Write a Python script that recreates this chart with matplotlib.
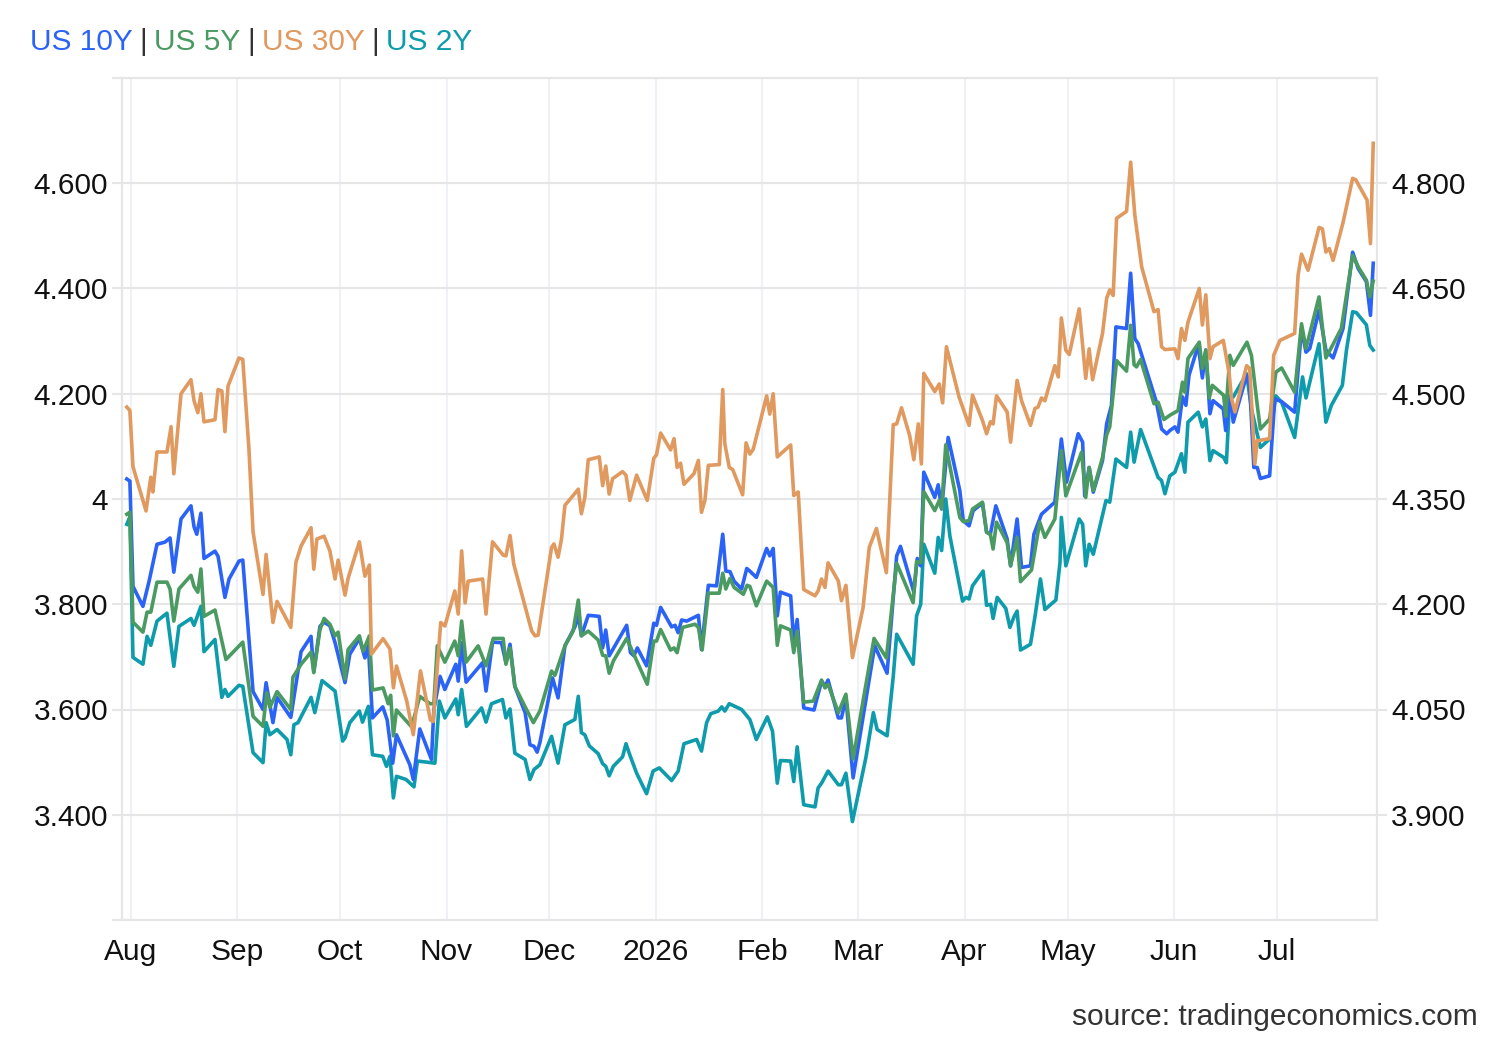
import numpy as np
import pandas as pd
import matplotlib
matplotlib.use("Agg")
import matplotlib.pyplot as plt
import matplotlib.dates as mdates
from matplotlib.ticker import FixedLocator, FuncFormatter

plt.rcParams['font.family'] = ['Liberation Sans', 'DejaVu Sans']

# day offsets are calendar days after 2025-08-01
start = pd.Timestamp("2025-08-01")

us10_days = [-1.2, -0.3, 0.6, 3.5, 5.3, 7.6, 9.9, 11.4, 12.5, 14.6, 17.5, 18.4, 19.2, 20.4, 21.3,
             24.5, 25.4, 27.4, 28.6, 31.5, 32.6, 35.6, 38.5, 39.4, 41.4, 42.6, 46.6, 49.6, 52.5,
             53.3, 55.1, 56.3, 58.0, 59.5, 62.4, 63.8, 66.6, 68.2, 69.2, 70.4, 73.4, 74.7, 76.3,
             77.4, 81.3, 82.3, 84.2, 87.6, 88.3, 90.1, 91.5, 94.7, 95.4, 96.4, 97.7, 100.8,
             102.5, 103.5, 105.4, 108.0, 109.3, 110.5, 111.9, 114.9, 116.3, 117.5, 118.4, 119.2,
             122.9, 124.5, 126.5, 129.4, 130.4, 131.3, 133.3, 136.5, 137.5, 138.4, 139.4, 144.5,
             145.6, 146.6, 147.6, 150.3, 152.4, 153.2, 154.4, 157.6, 158.6, 159.5, 160.5, 162.0,
             165.4, 166.3, 168.3, 170.7, 172.5, 173.4, 174.6, 175.8, 178.0, 179.5, 180.4, 182.3,
             185.3, 186.2, 187.2, 188.4, 189.3, 192.3, 193.2, 194.2, 196.1, 199.1, 201.3, 202.3,
             203.2, 206.2, 207.1, 208.4, 210.5, 213.9, 216.8, 220.4, 223.2, 224.3, 228.2, 229.2,
             230.2, 231.1, 234.3, 235.3, 236.3, 238.2, 241.6, 242.6, 244.3, 245.5, 248.2, 249.4,
             250.5, 252.1, 255.4, 256.4, 258.3, 259.6, 262.2, 263.2, 265.4, 269.3, 271.2, 272.7,
             276.1, 277.4, 278.0, 279.3, 280.5, 283.2, 284.4, 285.8, 287.1, 290.2, 291.4, 292.6,
             293.6, 294.6, 298.9, 300.4, 301.9, 302.8, 304.3, 305.2, 306.5, 307.5, 308.4, 311.1,
             312.3, 313.3, 314.5, 315.4, 318.4, 319.1, 320.5, 321.3, 325.2, 326.1, 327.3, 328.3,
             329.2, 331.9, 333.4, 335.4, 339.2, 341.2, 342.5, 343.6, 346.3, 348.3, 350.4, 353.3,
             356.1, 357.7, 360.1, 361.3, 362.1]
us10_vals = [4.038, 4.034, 3.834, 3.796, 3.844, 3.914, 3.918, 3.926, 3.861, 3.962, 3.987, 3.947,
             3.933, 3.973, 3.887, 3.901, 3.891, 3.813, 3.848, 3.882, 3.884, 3.634, 3.600, 3.651,
             3.575, 3.623, 3.585, 3.710, 3.739, 3.672, 3.758, 3.766, 3.759, 3.727, 3.651, 3.705,
             3.735, 3.698, 3.721, 3.584, 3.605, 3.580, 3.498, 3.552, 3.495, 3.467, 3.563, 3.505,
             3.600, 3.663, 3.638, 3.686, 3.654, 3.727, 3.652, 3.676, 3.689, 3.635, 3.728, 3.727,
             3.689, 3.724, 3.644, 3.594, 3.533, 3.530, 3.519, 3.537, 3.660, 3.622, 3.721, 3.757,
             3.778, 3.740, 3.779, 3.777, 3.717, 3.751, 3.702, 3.760, 3.708, 3.702, 3.717, 3.683,
             3.764, 3.760, 3.794, 3.757, 3.760, 3.746, 3.770, 3.768, 3.779, 3.714, 3.836, 3.835,
             3.933, 3.863, 3.862, 3.844, 3.829, 3.868, 3.863, 3.851, 3.906, 3.892, 3.906, 3.778,
             3.823, 3.816, 3.727, 3.771, 3.603, 3.599, 3.654, 3.644, 3.656, 3.584, 3.584, 3.622,
             3.470, 3.606, 3.721, 3.669, 3.892, 3.910, 3.823, 3.887, 3.873, 4.051, 4.003, 4.027,
             3.981, 4.117, 4.016, 3.959, 3.949, 3.978, 3.992, 3.937, 3.933, 3.987, 3.924, 3.873,
             3.962, 3.870, 3.873, 3.933, 3.971, 3.994, 4.114, 4.032, 4.124, 4.108, 4.006, 4.060,
             4.013, 4.073, 4.143, 4.178, 4.327, 4.324, 4.429, 4.305, 4.295, 4.274, 4.184, 4.133,
             4.124, 4.130, 4.137, 4.127, 4.194, 4.178, 4.235, 4.292, 4.230, 4.283, 4.162, 4.187,
             4.171, 4.130, 4.194, 4.146, 4.235, 4.216, 4.060, 4.060, 4.039, 4.044, 4.190, 4.185,
             4.165, 4.324, 4.279, 4.286, 4.359, 4.283, 4.268, 4.324, 4.469, 4.438, 4.413, 4.349,
             4.448]

us5_days = [-1.2, -0.3, 0.6, 3.5, 4.7, 5.8, 7.6, 10.5, 11.4, 12.5, 14.0, 17.5, 18.4, 19.5, 20.4,
            21.3, 24.5, 27.7, 32.6, 35.6, 38.5, 39.6, 40.5, 42.6, 46.6, 47.2, 49.6, 52.5, 53.3,
            55.1, 56.3, 58.0, 59.5, 60.4, 62.4, 63.3, 66.6, 67.7, 69.5, 70.4, 73.5, 75.0, 75.7,
            76.5, 77.4, 81.8, 84.2, 87.2, 88.3, 89.3, 91.5, 94.4, 95.4, 96.4, 97.7, 101.2, 103.5,
            105.6, 108.5, 109.3, 110.5, 111.9, 115.3, 117.3, 119.2, 122.6, 123.6, 126.5, 128.9,
            130.4, 131.3, 133.3, 136.2, 137.5, 138.4, 139.4, 140.6, 144.5, 150.5, 152.4, 153.2,
            154.4, 157.3, 158.3, 159.2, 160.8, 164.4, 165.4, 166.5, 168.3, 171.5, 172.5, 173.4,
            174.6, 175.8, 178.5, 179.6, 180.4, 182.3, 185.3, 187.2, 188.4, 189.3, 192.3, 193.2,
            194.2, 196.1, 198.9, 201.3, 202.3, 203.2, 206.2, 208.4, 210.5, 213.9, 216.6, 220.2,
            223.2, 228.0, 229.0, 230.2, 231.1, 234.3, 235.6, 236.3, 237.5, 241.6, 242.6, 244.3,
            245.3, 248.2, 249.4, 250.5, 251.3, 252.3, 255.4, 256.4, 258.3, 259.3, 262.5, 264.9,
            266.4, 269.3, 271.2, 272.5, 277.1, 278.3, 279.3, 280.5, 283.2, 284.4, 285.3, 287.3,
            290.2, 291.4, 292.4, 293.1, 294.3, 298.2, 299.4, 301.1, 302.8, 305.2, 306.5, 307.2,
            308.1, 311.4, 312.3, 313.3, 314.3, 315.2, 318.5, 319.1, 320.3, 321.3, 325.3, 326.6,
            328.3, 329.2, 331.9, 333.7, 335.4, 339.2, 341.2, 342.5, 346.3, 348.3, 352.8, 356.1,
            358.0, 360.1, 361.1, 362.1]
us5_vals = [3.971, 3.975, 3.766, 3.747, 3.785, 3.785, 3.842, 3.842, 3.829, 3.768, 3.829, 3.855,
            3.834, 3.823, 3.867, 3.777, 3.789, 3.695, 3.728, 3.587, 3.568, 3.632, 3.604, 3.634,
            3.600, 3.661, 3.686, 3.709, 3.670, 3.752, 3.773, 3.762, 3.740, 3.747, 3.658, 3.714,
            3.740, 3.711, 3.740, 3.637, 3.641, 3.611, 3.627, 3.550, 3.599, 3.567, 3.625, 3.611,
            3.611, 3.721, 3.690, 3.730, 3.702, 3.768, 3.690, 3.721, 3.683, 3.735, 3.735, 3.686,
            3.717, 3.644, 3.600, 3.575, 3.597, 3.673, 3.665, 3.721, 3.749, 3.808, 3.740, 3.749,
            3.732, 3.703, 3.702, 3.669, 3.692, 3.735, 3.648, 3.730, 3.730, 3.752, 3.713, 3.717,
            3.708, 3.756, 3.762, 3.756, 3.713, 3.821, 3.821, 3.859, 3.829, 3.849, 3.832, 3.819,
            3.836, 3.834, 3.797, 3.844, 3.832, 3.722, 3.759, 3.751, 3.708, 3.749, 3.614, 3.616,
            3.656, 3.641, 3.648, 3.594, 3.629, 3.506, 3.635, 3.735, 3.698, 3.878, 3.803, 3.881,
            3.879, 4.014, 3.978, 3.997, 3.982, 4.103, 3.965, 3.957, 3.959, 3.981, 3.994, 3.937,
            3.933, 3.905, 3.956, 3.917, 3.873, 3.927, 3.843, 3.865, 3.956, 3.927, 3.962, 4.092,
            4.006, 4.089, 4.003, 4.060, 4.016, 4.079, 4.122, 4.137, 4.263, 4.243, 4.330, 4.255,
            4.251, 4.265, 4.181, 4.184, 4.151, 4.159, 4.168, 4.222, 4.203, 4.267, 4.298, 4.248,
            4.283, 4.192, 4.216, 4.197, 4.157, 4.273, 4.254, 4.298, 4.273, 4.178, 4.133, 4.152,
            4.241, 4.249, 4.203, 4.333, 4.286, 4.384, 4.268, 4.324, 4.463, 4.438, 4.416, 4.384,
            4.414]

us30_days = [-1.2, -0.3, 0.6, 4.4, 5.8, 6.4, 7.6, 10.5, 11.7, 12.5, 14.6, 17.5, 18.4, 19.5, 20.4,
             21.3, 24.5, 25.4, 26.5, 27.4, 28.3, 31.5, 32.6, 34.4, 35.6, 38.5, 39.4, 41.4, 42.6,
             46.6, 48.1, 49.6, 52.5, 53.3, 54.2, 56.3, 58.0, 59.5, 60.4, 62.4, 63.3, 66.6, 68.2,
             69.5, 70.1, 73.5, 75.5, 76.5, 77.4, 80.4, 82.3, 84.4, 87.3, 88.1, 90.3, 91.5, 94.4,
             95.4, 96.4, 97.4, 98.3, 102.5, 103.5, 105.4, 108.5, 109.3, 110.5, 111.6, 116.8,
             117.8, 118.7, 122.6, 123.3, 124.5, 125.5, 126.5, 128.9, 130.4, 131.3, 132.3, 133.3,
             136.5, 137.5, 138.4, 139.4, 140.4, 143.3, 144.3, 145.4, 147.4, 150.5, 152.4, 153.2,
             154.4, 157.3, 158.3, 159.2, 160.2, 161.2, 164.1, 165.4, 166.3, 167.3, 168.3, 171.5,
             172.5, 173.1, 174.4, 175.4, 178.3, 179.3, 180.4, 181.4, 185.3, 186.2, 187.2, 188.4,
             192.3, 193.2, 194.5, 196.1, 199.4, 200.3, 201.3, 202.3, 203.2, 206.2, 207.1, 208.4,
             210.3, 213.4, 215.2, 217.3, 220.2, 222.2, 223.2, 224.6, 227.0, 228.2, 229.5, 230.4,
             231.1, 234.3, 235.6, 236.6, 237.7, 241.4, 244.3, 245.3, 248.2, 249.4, 250.5, 251.3,
             252.3, 255.4, 256.4, 258.3, 259.6, 262.2, 263.5, 264.4, 265.4, 266.4, 269.3, 270.3,
             271.2, 272.5, 273.5, 276.4, 278.3, 279.3, 280.3, 283.2, 284.4, 285.3, 286.3, 287.3,
             290.2, 291.4, 292.6, 294.6, 298.2, 299.4, 300.4, 301.4, 304.3, 305.2, 306.2, 307.2,
             308.1, 311.4, 312.3, 313.3, 314.5, 315.4, 318.4, 320.1, 320.8, 321.8, 325.2, 326.1,
             327.6, 328.3, 331.9, 333.1, 334.9, 339.2, 340.2, 341.2, 343.1, 346.3, 347.3, 348.3,
             349.3, 350.4, 353.3, 356.1, 357.0, 360.3, 361.3, 362.1]
us30_vals = [4.481, 4.476, 4.396, 4.333, 4.381, 4.360, 4.417, 4.417, 4.453, 4.386, 4.500, 4.520,
             4.490, 4.473, 4.500, 4.460, 4.463, 4.506, 4.504, 4.446, 4.511, 4.551, 4.549, 4.421,
             4.303, 4.214, 4.271, 4.174, 4.204, 4.167, 4.260, 4.283, 4.309, 4.250, 4.293, 4.297,
             4.276, 4.236, 4.263, 4.213, 4.237, 4.289, 4.240, 4.256, 4.129, 4.151, 4.136, 4.081,
             4.112, 4.062, 4.014, 4.105, 4.035, 4.033, 4.174, 4.169, 4.219, 4.186, 4.276, 4.202,
             4.233, 4.236, 4.186, 4.289, 4.270, 4.269, 4.298, 4.257, 4.162, 4.155, 4.156, 4.281,
             4.286, 4.267, 4.293, 4.341, 4.355, 4.364, 4.329, 4.352, 4.406, 4.410, 4.369, 4.397,
             4.357, 4.379, 4.389, 4.384, 4.348, 4.384, 4.348, 4.408, 4.413, 4.444, 4.420, 4.436,
             4.395, 4.401, 4.371, 4.386, 4.405, 4.331, 4.348, 4.398, 4.399, 4.506, 4.429, 4.395,
             4.392, 4.356, 4.430, 4.414, 4.421, 4.497, 4.471, 4.500, 4.410, 4.427, 4.355, 4.360,
             4.221, 4.212, 4.219, 4.236, 4.224, 4.259, 4.233, 4.205, 4.227, 4.124, 4.195, 4.281,
             4.308, 4.245, 4.456, 4.457, 4.480, 4.440, 4.406, 4.457, 4.400, 4.529, 4.503, 4.514,
             4.487, 4.567, 4.495, 4.455, 4.498, 4.462, 4.443, 4.460, 4.457, 4.497, 4.474, 4.431,
             4.519, 4.490, 4.455, 4.479, 4.481, 4.494, 4.490, 4.540, 4.524, 4.608, 4.562, 4.556,
             4.621, 4.522, 4.564, 4.520, 4.586, 4.636, 4.648, 4.640, 4.750, 4.760, 4.830, 4.755,
             4.681, 4.617, 4.620, 4.567, 4.563, 4.564, 4.550, 4.593, 4.576, 4.602, 4.650, 4.598,
             4.641, 4.550, 4.567, 4.576, 4.529, 4.493, 4.474, 4.540, 4.536, 4.400, 4.433, 4.436,
             4.555, 4.576, 4.586, 4.669, 4.699, 4.676, 4.737, 4.735, 4.702, 4.707, 4.690, 4.744,
             4.807, 4.805, 4.776, 4.714, 4.857]

us2_days = [-1.2, -0.3, 0.6, 3.5, 4.7, 5.8, 7.6, 10.5, 12.5, 14.0, 17.5, 18.4, 20.4, 21.3, 24.5,
            26.5, 27.4, 28.3, 31.5, 32.6, 35.6, 38.5, 39.4, 40.5, 42.6, 45.5, 46.6, 47.5, 48.7,
            52.5, 53.6, 55.7, 58.0, 59.5, 61.7, 62.4, 63.8, 66.6, 67.5, 69.2, 70.4, 73.4, 74.5,
            75.5, 76.5, 77.4, 80.2, 82.5, 83.5, 86.2, 88.6, 89.9, 91.5, 94.7, 95.4, 96.4, 97.8,
            102.2, 103.5, 105.1, 108.3, 109.3, 110.5, 111.9, 114.9, 116.3, 117.5, 119.2, 122.6,
            124.5, 126.5, 129.4, 130.4, 131.3, 132.3, 133.6, 136.2, 137.5, 138.4, 139.4, 140.6,
            143.3, 144.3, 145.4, 147.4, 150.3, 152.2, 154.0, 157.6, 159.5, 161.2, 164.9, 166.3,
            167.8, 169.0, 171.2, 172.2, 173.1, 174.4, 178.0, 180.4, 182.3, 185.5, 187.0, 188.4,
            189.3, 192.3, 193.2, 194.2, 196.1, 199.4, 200.3, 201.3, 203.2, 206.2, 207.1, 208.4,
            210.3, 214.2, 216.4, 217.5, 220.4, 222.2, 223.2, 228.0, 229.0, 230.2, 231.1, 234.3,
            235.3, 236.3, 237.5, 238.7, 242.4, 243.4, 244.3, 245.3, 248.4, 249.4, 250.6, 251.3,
            252.5, 255.0, 256.2, 257.4, 258.3, 259.3, 262.2, 263.5, 265.1, 266.4, 269.6, 270.8,
            271.2, 272.5, 276.4, 277.4, 278.3, 279.3, 280.5, 284.2, 285.3, 287.1, 290.2, 291.4,
            292.4, 294.3, 299.4, 300.4, 301.4, 302.8, 304.3, 306.2, 307.2, 308.1, 311.1, 312.3,
            313.3, 314.5, 315.4, 318.5, 319.3, 320.3, 321.3, 325.2, 326.6, 329.2, 331.9, 333.7,
            335.4, 339.2, 341.5, 342.5, 346.3, 348.3, 349.9, 353.1, 354.3, 356.1, 357.2, 360.1,
            361.1, 362.1]
us2_vals = [3.952, 3.966, 3.699, 3.686, 3.739, 3.722, 3.768, 3.783, 3.682, 3.758, 3.773, 3.760,
            3.796, 3.710, 3.733, 3.623, 3.638, 3.625, 3.646, 3.644, 3.518, 3.499, 3.575, 3.552,
            3.562, 3.543, 3.514, 3.571, 3.575, 3.623, 3.594, 3.655, 3.643, 3.635, 3.540, 3.546,
            3.575, 3.597, 3.576, 3.606, 3.514, 3.511, 3.492, 3.511, 3.432, 3.473, 3.467, 3.453,
            3.502, 3.500, 3.498, 3.616, 3.584, 3.620, 3.590, 3.638, 3.568, 3.603, 3.576, 3.611,
            3.619, 3.584, 3.601, 3.517, 3.505, 3.467, 3.486, 3.495, 3.549, 3.498, 3.571, 3.581,
            3.625, 3.556, 3.552, 3.531, 3.516, 3.497, 3.492, 3.474, 3.492, 3.510, 3.535, 3.514,
            3.479, 3.440, 3.483, 3.489, 3.465, 3.483, 3.535, 3.543, 3.521, 3.575, 3.592, 3.597,
            3.605, 3.597, 3.611, 3.600, 3.581, 3.543, 3.586, 3.559, 3.460, 3.503, 3.502, 3.463,
            3.529, 3.419, 3.415, 3.451, 3.460, 3.483, 3.457, 3.457, 3.479, 3.387, 3.508, 3.594,
            3.562, 3.550, 3.663, 3.743, 3.686, 3.778, 3.800, 3.914, 3.859, 3.927, 3.902, 4.000,
            3.930, 3.806, 3.813, 3.810, 3.835, 3.863, 3.798, 3.800, 3.773, 3.813, 3.792, 3.756,
            3.776, 3.787, 3.713, 3.724, 3.776, 3.848, 3.790, 3.808, 3.879, 3.965, 3.873, 3.962,
            3.952, 3.873, 3.914, 3.895, 3.997, 3.994, 4.076, 4.060, 4.127, 4.070, 4.132, 4.041,
            4.035, 4.010, 4.044, 4.051, 4.086, 4.051, 4.146, 4.165, 4.137, 4.152, 4.073, 4.092,
            4.079, 4.069, 4.197, 4.194, 4.238, 4.171, 4.098, 4.114, 4.196, 4.184, 4.117, 4.232,
            4.192, 4.295, 4.146, 4.178, 4.216, 4.283, 4.356, 4.354, 4.331, 4.292, 4.283]

left_ticks = [3.4, 3.6, 3.8, 4.0, 4.2, 4.4, 4.6]
left_labels = ["3.400", "3.600", "3.800", "4", "4.200", "4.400", "4.600"]
right_ticks = [3.9, 4.05, 4.2, 4.35, 4.5, 4.65, 4.8]
right_labels = ["3.900", "4.050", "4.200", "4.350", "4.500", "4.650", "4.800"]

names = ["US 10Y", "US 5Y", "US 30Y", "US 2Y"]
colors = {"US 10Y": "#2b63f6", "US 5Y": "#4a9a62", "US 30Y": "#e0995f", "US 2Y": "#0e9bab"}


def to_dates(days):
    return start + pd.to_timedelta(np.array(days), unit="D")


fs = 21.5
fig = plt.figure(figsize=(15, 10.4), dpi=100)
ax = fig.add_axes([122 / 1500, 120 / 1040, 1255 / 1500, 842 / 1040])
ax2 = ax.twinx()

lw = 2.6
ax.plot(to_dates(us2_days), us2_vals, color=colors["US 2Y"], lw=lw, zorder=3)
ax.plot(to_dates(us10_days), us10_vals, color=colors["US 10Y"], lw=lw, zorder=4)
ax.plot(to_dates(us5_days), us5_vals, color=colors["US 5Y"], lw=lw, zorder=5)
ax2.plot(to_dates(us30_days), us30_vals, color=colors["US 30Y"], lw=lw)

ax.set_ylim(3.2, 4.8)
ax2.set_ylim(3.75, 4.95)
ax.set_xlim(start + pd.Timedelta(days=-2.6), start + pd.Timedelta(days=363.2))

grid_c = "#e6e6e6"
ax.yaxis.set_major_locator(FixedLocator([3.2] + left_ticks + [4.8]))
ax.set_yticklabels([""] + left_labels + [""])
ax2.yaxis.set_major_locator(FixedLocator(right_ticks))
ax2.set_yticklabels(right_labels)

ax.xaxis.set_major_locator(mdates.MonthLocator())
ax.xaxis.set_major_formatter(FuncFormatter(
    lambda v, p: "2026" if mdates.num2date(v).month == 1 else mdates.num2date(v).strftime("%b")))

ax.grid(axis="y", color=grid_c, lw=1.5, zorder=0)
ax.grid(axis="x", color="#eef1f5", lw=1.5, zorder=0)
ax.set_axisbelow(True)

for a in (ax, ax2):
    for s in a.spines.values():
        s.set_color(grid_c)
        s.set_linewidth(1.5)
ax.tick_params(axis="y", length=7, width=1.5, color=grid_c, labelsize=fs, labelcolor="#111", pad=3)
ax2.tick_params(axis="y", length=7, width=1.5, color=grid_c, labelsize=fs, labelcolor="#111", pad=3)
ax.tick_params(axis="x", length=0, labelsize=fs, labelcolor="#111", pad=13)

# coloured legend line at top-left
t = fig.text(30 / 1500, 1 - 50 / 1040, names[0], color=colors[names[0]], fontsize=fs, va="baseline")
for name in names[1:]:
    t = ax.annotate("|", xycoords=t, xy=(1, 0), xytext=(5, 0), textcoords="offset points",
                    color="#333333", fontsize=fs, va="bottom")
    t = ax.annotate(name, xycoords=t, xy=(1, 0), xytext=(5, 0), textcoords="offset points",
                    color=colors[name], fontsize=fs, va="bottom")

fig.text(1478 / 1500, 1 - 1017 / 1040, "source: tradingeconomics.com", ha="right", va="center",
         color="#333333", fontsize=fs)

fig.savefig("out.png", dpi=100)
